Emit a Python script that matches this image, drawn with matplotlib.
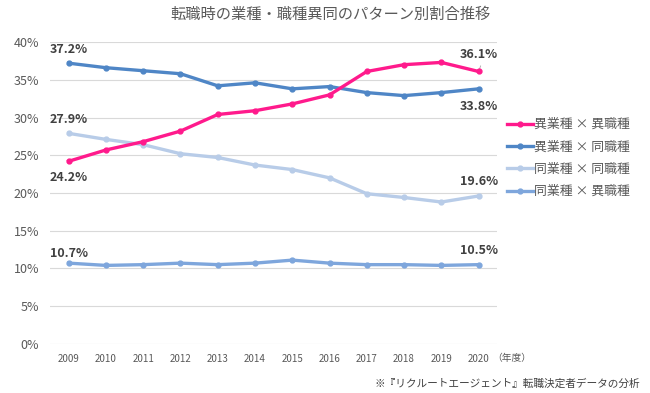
import matplotlib
matplotlib.use("Agg")
import matplotlib.pyplot as plt
from matplotlib.ticker import FuncFormatter

plt.rcParams['font.family'] = ['Noto Sans CJK JP', 'DejaVu Sans']

years = [2009, 2010, 2011, 2012, 2013, 2014, 2015, 2016, 2017, 2018, 2019, 2020]
series_names = ['異業種 × 異職種', '異業種 × 同職種', '同業種 × 同職種', '同業種 × 異職種']
diff_diff = [24.2, 25.7, 26.8, 28.2, 30.4, 30.9, 31.8, 33.0, 36.1, 37.0, 37.3, 36.1]
diff_same = [37.2, 36.6, 36.2, 35.8, 34.2, 34.6, 33.8, 34.1, 33.3, 32.9, 33.3, 33.8]
same_same = [27.9, 27.1, 26.4, 25.2, 24.7, 23.7, 23.1, 22.0, 19.9, 19.4, 18.8, 19.6]
same_diff = [10.7, 10.4, 10.5, 10.7, 10.5, 10.7, 11.1, 10.7, 10.5, 10.5, 10.4, 10.5]
colors = ['#ff1a8c', '#4f86c6', '#b8cce8', '#7ea6dc']

fig = plt.figure(figsize=(6.5, 3.93), dpi=100)
ax = fig.add_axes([0.077, 0.125, 0.688, 0.768])

all_series = [diff_diff, diff_same, same_same, same_diff]
# draw lightest first so pink stays on top
order = [3, 2, 1, 0]
lines = {}
for i in order:
    ln, = ax.plot(years, all_series[i], color=colors[i], lw=2.4, marker='o',
                  markersize=3.5, label=series_names[i], zorder=3 + (i == 0))
    lines[i] = ln

ax.set_xlim(2008.5, 2020.5)
ax.set_ylim(0, 40)
ax.set_yticks(range(0, 41, 5))
ax.yaxis.set_major_formatter(FuncFormatter(lambda v, p: f'{int(v)}%'))
ax.set_xticks(years)
ax.grid(axis='y', color='#d9d9d9', lw=0.8)
ax.set_axisbelow(True)
for s in ax.spines.values():
    s.set_visible(False)
ax.tick_params(length=0)
ax.tick_params(axis='y', labelsize=9, colors='#595959', pad=8)
ax.tick_params(axis='x', labelsize=7, colors='#595959', pad=7)

# data labels at the ends (offsets in points)
lab = dict(fontsize=9, fontweight='bold', color='#404040', ha='center', va='center',
           fontstretch='condensed')
ends = [
    (0, diff_same, 9.5), (0, same_same, 10), (0, diff_diff, -11.5), (0, same_diff, 7.0),
    (-1, diff_diff, 12.5), (-1, diff_same, -13), (-1, same_same, 10.5), (-1, same_diff, 10.5),
]
for idx, ser, dy in ends:
    ax.annotate(f'{ser[idx]}%', (years[idx], ser[idx]), xytext=(0, dy),
                textcoords='offset points', **lab)
# small leader line for the pink end label
ax.annotate('', (years[-1], diff_diff[-1]), xytext=(years[-1] + 0.08, diff_diff[-1] + 1.1),
            arrowprops=dict(arrowstyle='-', color='#a6a6a6', lw=0.6))

handles = [lines[i] for i in range(4)]
leg = ax.legend(handles, series_names, loc='upper left', bbox_to_anchor=(1.01, 0.765),
                frameon=False, fontsize=9.3, handlelength=2.0, handletextpad=0.1,
                labelspacing=0.72, labelcolor='#595959', borderaxespad=0)

fig.text(0.757, 0.089, '（年度）', fontsize=7, color='#595959', va='center')
fig.suptitle('転職時の業種・職種異同のパターン別割合推移', x=0.508, y=0.985,
             fontsize=11, color='#595959')
fig.text(0.985, 0.01, '※『リクルートエージェント』転職決定者データの分析',
         fontsize=7.7, color='#404040', ha='right', va='bottom')

fig.savefig('out.png', dpi=100)
